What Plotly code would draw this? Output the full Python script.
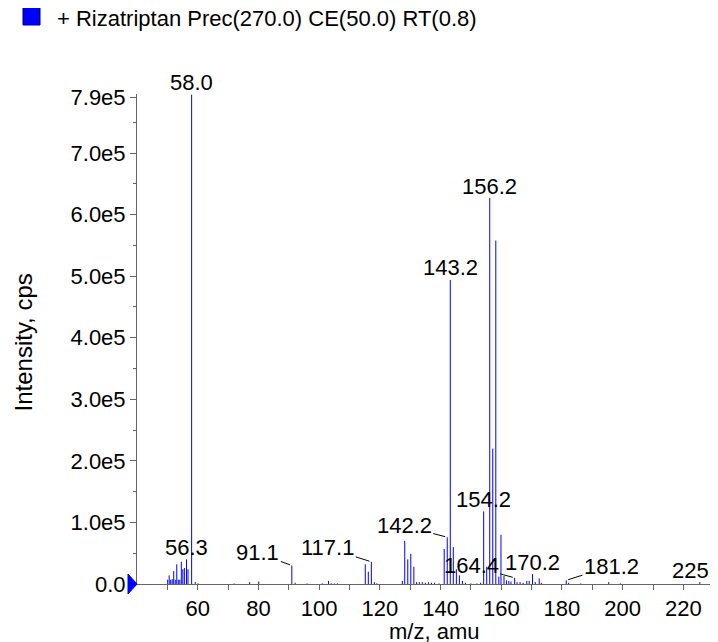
import plotly.graph_objects as go

# ---------------- data ----------------
mz = [50.1, 50.6, 51.1, 51.6, 52.1, 52.6, 53.1, 53.6, 54.1, 54.6, 55.1, 55.6, 56.3, 56.8,
      58.0, 59.2, 60.1, 72.0, 77.1, 80.1, 91.0, 92.1, 96.0, 101.0, 103.1, 104.0, 105.0, 106.0,
      115.2, 116.2, 117.2, 118.2, 119.0, 127.4, 128.2, 129.2, 130.2, 131.2, 132.1, 133.0,
      134.0, 135.0, 136.0, 137.0, 138.0, 139.5, 141.2, 142.2, 143.2, 144.2, 145.2, 146.2,
      147.2, 148.2, 150.0, 152.0, 153.2, 154.2, 155.2, 156.2, 157.2, 158.2, 159.2, 159.9,
      160.9, 161.7, 162.5, 163.2, 164.4, 165.2, 166.2, 167.2, 168.4, 169.2, 170.3, 171.2,
      172.5, 173.2, 181.4, 182.2, 186.2, 195.4, 199.2, 225.4]
intensity = [0.07e5, 0.14e5, 0.07e5, 0.08e5, 0.21e5, 0.07e5, 0.32e5, 0.07e5, 0.07e5, 0.36e5,
             0.24e5, 0.26e5, 0.40e5, 0.24e5, 7.95e5, 0.03e5, 0.01e5, 0.01e5, 0.03e5, 0.04e5,
             0.30e5, 0.02e5, 0.01e5, 0.01e5, 0.05e5, 0.01e5, 0.01e5, 0.01e5, 0.32e5, 0.20e5,
             0.36e5, 0.03e5, 0.01e5, 0.05e5, 0.70e5, 0.40e5, 0.49e5, 0.28e5, 0.03e5, 0.03e5,
             0.03e5, 0.02e5, 0.03e5, 0.02e5, 0.02e5, 0.01e5, 0.57e5, 0.76e5, 4.94e5, 0.60e5,
             0.24e5, 0.14e5, 0.05e5, 0.02e5, 0.01e5, 0.01e5, 0.02e5, 1.18e5, 0.28e5, 6.27e5,
             2.20e5, 5.58e5, 0.12e5, 0.80e5, 0.13e5, 0.06e5, 0.05e5, 0.04e5, 0.10e5, 0.03e5,
             0.03e5, 0.02e5, 0.05e5, 0.05e5, 0.16e5, 0.03e5, 0.09e5, 0.02e5, 0.06e5, 0.02e5,
             0.01e5, 0.03e5, 0.01e5, 0.03e5]

ytick_vals = [0, 1e5, 2e5, 3e5, 4e5, 5e5, 6e5, 7e5, 7.9e5]
ytick_text = ["0.0", "1.0e5", "2.0e5", "3.0e5", "4.0e5", "5.0e5", "6.0e5", "7.0e5", "7.9e5"]
yminor_vals = [0.5e5, 1.5e5, 2.5e5, 3.5e5, 4.5e5, 5.5e5, 6.5e5, 7.5e5]
xtick_vals = [60, 80, 100, 120, 140, 160, 180, 200, 220]
xtick_text = ["60", "80", "100", "120", "140", "160", "180", "200", "220"]
xminor_vals = [50, 70, 90, 110, 130, 150, 170, 190, 210, 230]

# peak labels
label_text = ["58.0", "156.2", "143.2", "154.2", "56.3", "170.2", "225.3",
              "91.1", "117.1", "142.2", "164.4", "181.2"]
label_mz = [58.0, 156.2, 143.2, 154.2, 56.3, 170.3, 225.4,
            91.0, 117.2, 142.2, 164.4, 181.4]
label_int = [7.95e5, 6.27e5, 4.94e5, 1.18e5, 0.40e5, 0.16e5, 0.03e5,
             0.30e5, 0.36e5, 0.76e5, 0.10e5, 0.06e5]
legend_text = "+ Rizatriptan Prec(270.0) CE(50.0) RT(0.8)"
x_title = "m/z, amu"
y_title = "Intensity, cps"

# ---------------- layout / styling ----------------
# label placement (pixel offsets; None = plain label above peak)
label_offsets = [None, None, None, None, None, None, None,
                 (-34, -12.6), (-43.6, -13.9), (-43, -11.3), (-43.3, -11.9), (45.2, -14.3)]

FONT = "Liberation Sans, Arial, Helvetica, sans-serif"
BLUE = "#0000ff"
AXC = "#666666"

# page body has an 8px margin, so the figure is drawn offset by (8, 8)
OFF = 8
ML, MT = 137 - OFF, 94 - OFF
PW, PH = 718 - ML, 490
MB = 642 - MT - PH
PX_PER_AMU = 3.0356
X0 = 40.0
X1 = X0 + PW / PX_PER_AMU


def px(page_x):
    return (page_x - OFF - ML) / PW


def py(page_y):
    return (MT + PH - (page_y - OFF)) / PH


xs, ys = [], []
for m, v in zip(mz, intensity):
    xs += [m, m, None]
    ys += [0, v, None]

fig = go.Figure()
fig.add_trace(go.Scatter(x=xs, y=ys, mode="lines", line=dict(color=BLUE, width=1),
                         showlegend=False, hoverinfo="skip"))

annotations = []
for t, m, v, off in zip(label_text, label_mz, label_int, label_offsets):
    if off is None:
        annotations.append(dict(x=m, y=v, xref="x", yref="y", text=t, showarrow=False,
                                yanchor="middle", yshift=12,
                                font=dict(size=22, color="black", family=FONT)))
    else:
        annotations.append(dict(x=m, y=v, xref="x", yref="y", text=t, showarrow=True,
                                ax=off[0], ay=off[1], arrowhead=0, arrowwidth=1,
                                arrowcolor="black", standoff=2,
                                font=dict(size=22, color="black", family=FONT)))

# legend text
annotations.append(dict(x=px(55), y=py(19), xref="paper", yref="paper",
                        text=legend_text, showarrow=False, xanchor="left", yanchor="middle",
                        font=dict(size=22, color="black", family=FONT)))
# axis titles
annotations.append(dict(x=px(434), y=py(631), xref="paper", yref="paper",
                        text=x_title, showarrow=False, xanchor="center", yanchor="middle",
                        font=dict(size=22, color="black", family=FONT)))
annotations.append(dict(x=px(434), y=py(-3), xref="paper", yref="paper",
                        text=x_title, showarrow=False, xanchor="center", yanchor="middle",
                        font=dict(size=22, color="black", family=FONT)))
annotations.append(dict(x=px(22.5), y=py(343), xref="paper", yref="paper",
                        text=y_title, showarrow=False, textangle=-90,
                        xanchor="center", yanchor="middle",
                        font=dict(size=24, color="black", family=FONT)))

shapes = [
    # legend swatch
    dict(type="rect", xref="paper", yref="paper", xsizemode="pixel", ysizemode="pixel",
         xanchor=px(31.5), yanchor=py(16),
         x0=-8.5, x1=8.5, y0=-9, y1=9,
         fillcolor=BLUE, line=dict(color="#000066", width=1)),
    # origin marker triangle
    dict(type="path", xref="paper", yref="paper", xsizemode="pixel", ysizemode="pixel",
         xanchor=0, yanchor=0, path="M -9,-10 L 0,0 L -9,10 Z",
         fillcolor=BLUE, line=dict(color=BLUE, width=1)),
]

fig.update_layout(
    width=718, height=642,
    margin=dict(l=ML, r=0, t=MT, b=MB, pad=0),
    paper_bgcolor="white", plot_bgcolor="white",
    font=dict(family=FONT, size=22, color="black"),
    showlegend=False,
    annotations=annotations,
    shapes=shapes,
    xaxis=dict(range=[X0, X1], showline=True, linecolor=AXC, linewidth=1,
               ticks="outside", ticklen=5, tickcolor=AXC, tickvals=xtick_vals,
               ticktext=xtick_text, showgrid=False, zeroline=False,
               tickfont=dict(size=22, color="black", family=FONT),
               minor=dict(tickvals=xminor_vals, ticks="outside", ticklen=5, tickcolor=AXC,
                          showgrid=False)),
    yaxis=dict(range=[0, 7.96e5], showline=True, linecolor=AXC, linewidth=1,
               ticks="outside", ticklen=6, tickcolor=AXC, tickvals=ytick_vals,
               ticktext=ytick_text, showgrid=False, zeroline=False,
               tickfont=dict(size=22, color="black", family=FONT),
               minor=dict(tickvals=yminor_vals, ticks="outside", ticklen=3, tickcolor=AXC,
                          showgrid=False)),
)

fig.write_html("out.html")
